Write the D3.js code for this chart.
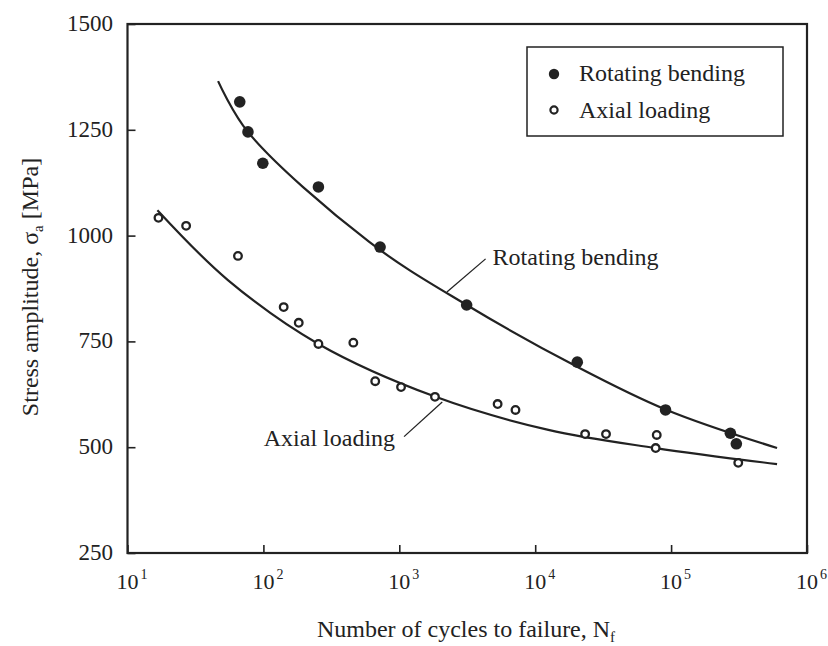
<!DOCTYPE html>
<html lang="en">
<head>
<meta charset="UTF-8">
<title>S-N curves</title>
<script src="https://d3js.org/d3.v7.min.js"></script>
<style>
  body { margin: 0; background: #fff; }
  svg text { font-family: "Liberation Serif", "DejaVu Serif", serif; fill: #222; }
</style>
</head>
<body>
<div id="chart"></div>
<script>
// measured points: cycles to failure vs stress amplitude (MPa)
const rotN = [67, 77, 99, 254, 722, 3130, 20400, 91000, 273000, 302000];
const rotS = [1316, 1245, 1171, 1115, 973, 836, 701, 588, 533, 508];

const axN = [16.9, 27, 65, 141, 182, 254, 459, 665, 1030, 1830, 5290, 7160, 23300, 33200, 78400, 77000, 312000];
const axS = [1042, 1023, 952, 831, 794, 744, 747, 656, 642, 619, 602, 588, 531, 531, 529, 498, 463];

// fitted trend curves
const rotFitN = [46.4, 76.9, 601, 3133, 20370, 92900, 602000];
const rotFitS = [1365, 1245, 985, 836, 690, 588, 498];

const axFitN = [16.6, 54.8, 254, 1849, 12500, 77000, 602000];
const axFitS = [1060, 895, 744, 619, 541, 498, 460];

const yTicks = [250, 500, 750, 1000, 1250, 1500];
const xTicks = [1, 2, 3, 4, 5, 6];   // decade exponents

const W = 828, H = 646;
const svg = d3.select("#chart").append("svg")
    .attr("width", W).attr("height", H);

const x = d3.scaleLog().domain([10, 1e6]).range([127.5, 807]);
const y = d3.scaleLinear().domain([250, 1500]).range([553, 24]);

const ink = "#222";
const fs = 24;

// frame
svg.append("rect")
    .attr("x", x.range()[0]).attr("y", y.range()[1])
    .attr("width", x.range()[1] - x.range()[0])
    .attr("height", y.range()[0] - y.range()[1])
    .attr("fill", "none").attr("stroke", ink).attr("stroke-width", 2.2);

// y axis: inward ticks
const yAxis = svg.append("g")
    .attr("transform", `translate(${x.range()[0]},0)`)
    .call(d3.axisRight(y).tickValues(yTicks).tickSize(8).tickFormat(""));
yAxis.select(".domain").remove();
yAxis.selectAll("line").attr("stroke", ink).attr("stroke-width", 1.6);

svg.append("g").selectAll("text")
    .data(yTicks).join("text")
    .attr("x", 113).attr("y", d => y(d) + 7)
    .attr("text-anchor", "end")
    .attr("font-size", 23)
    .text(d => d);

// x axis: inward ticks, labels as powers of ten
const xAxis = svg.append("g")
    .attr("transform", `translate(0,${y.range()[0]})`)
    .call(d3.axisTop(x).tickValues(xTicks.map(e => Math.pow(10, e))).tickSize(8).tickFormat(""));
xAxis.select(".domain").remove();
xAxis.selectAll("line").attr("stroke", ink).attr("stroke-width", 1.6);

const xl = svg.append("g").selectAll("text")
    .data(xTicks).join("text")
    .attr("x", d => x(Math.pow(10, d)) - 11)
    .attr("y", 589)
    .attr("font-size", 22);
xl.append("tspan").text("10");
xl.append("tspan").attr("dy", -10).attr("dx", 2).attr("font-size", 14).text(d => d);

// axis titles
const yt = svg.append("text")
    .attr("transform", "translate(38,287) rotate(-90)")
    .attr("text-anchor", "middle")
    .attr("font-size", fs);
yt.append("tspan").text("Stress amplitude, σ");
yt.append("tspan").attr("font-size", 15).attr("dy", 5).text("a");
yt.append("tspan").attr("dy", -5).text(" [MPa]");

const xt = svg.append("text")
    .attr("x", 466).attr("y", 637)
    .attr("text-anchor", "middle")
    .attr("font-size", fs);
xt.append("tspan").text("Number of cycles to failure, N");
xt.append("tspan").attr("font-size", 15).attr("dy", 5).text("f");

// trend curves
const line = d3.line()
    .x(d => x(d[0])).y(d => y(d[1]))
    .curve(d3.curveCatmullRom.alpha(0.5));

[[rotFitN, rotFitS], [axFitN, axFitS]].forEach(([ns, ss]) => {
  svg.append("path")
      .datum(d3.zip(ns, ss))
      .attr("d", line)
      .attr("fill", "none")
      .attr("stroke", ink)
      .attr("stroke-width", 2.2);
});

// markers
svg.append("g").selectAll("circle")
    .data(d3.zip(rotN, rotS)).join("circle")
    .attr("cx", d => x(d[0])).attr("cy", d => y(d[1]))
    .attr("r", 5.8).attr("fill", ink);

svg.append("g").selectAll("circle")
    .data(d3.zip(axN, axS)).join("circle")
    .attr("cx", d => x(d[0])).attr("cy", d => y(d[1]))
    .attr("r", 3.8).attr("fill", "#fff")
    .attr("stroke", ink).attr("stroke-width", 2.3);

// curve labels with leader lines (anchored in data space)
const notes = [
  { text: "Rotating bending", from: [2240, 867], to: [4315, 945], dx: 7, dy: 6, anchor: "start" },
  { text: "Axial loading", from: [2070, 607], to: [1084, 525], dx: -9, dy: 9, anchor: "end" }
];
notes.forEach(n => {
  svg.append("line")
      .attr("x1", x(n.from[0])).attr("y1", y(n.from[1]))
      .attr("x2", x(n.to[0])).attr("y2", y(n.to[1]))
      .attr("stroke", ink).attr("stroke-width", 1.3);
  svg.append("text")
      .attr("x", x(n.to[0]) + n.dx).attr("y", y(n.to[1]) + n.dy)
      .attr("text-anchor", n.anchor)
      .attr("font-size", fs)
      .text(n.text);
});

// legend
const lg = svg.append("g").attr("transform", "translate(527,47)");
lg.append("rect")
    .attr("width", 256).attr("height", 89)
    .attr("fill", "#fff").attr("stroke", ink).attr("stroke-width", 1.5);
lg.append("circle").attr("cx", 27).attr("cy", 27).attr("r", 5.2).attr("fill", ink);
lg.append("circle").attr("cx", 27).attr("cy", 63).attr("r", 3.6)
    .attr("fill", "#fff").attr("stroke", ink).attr("stroke-width", 2.2);
lg.append("text").attr("x", 52).attr("y", 34).attr("font-size", fs).text("Rotating bending");
lg.append("text").attr("x", 52).attr("y", 71).attr("font-size", fs).text("Axial loading");
</script>
</body>
</html>
